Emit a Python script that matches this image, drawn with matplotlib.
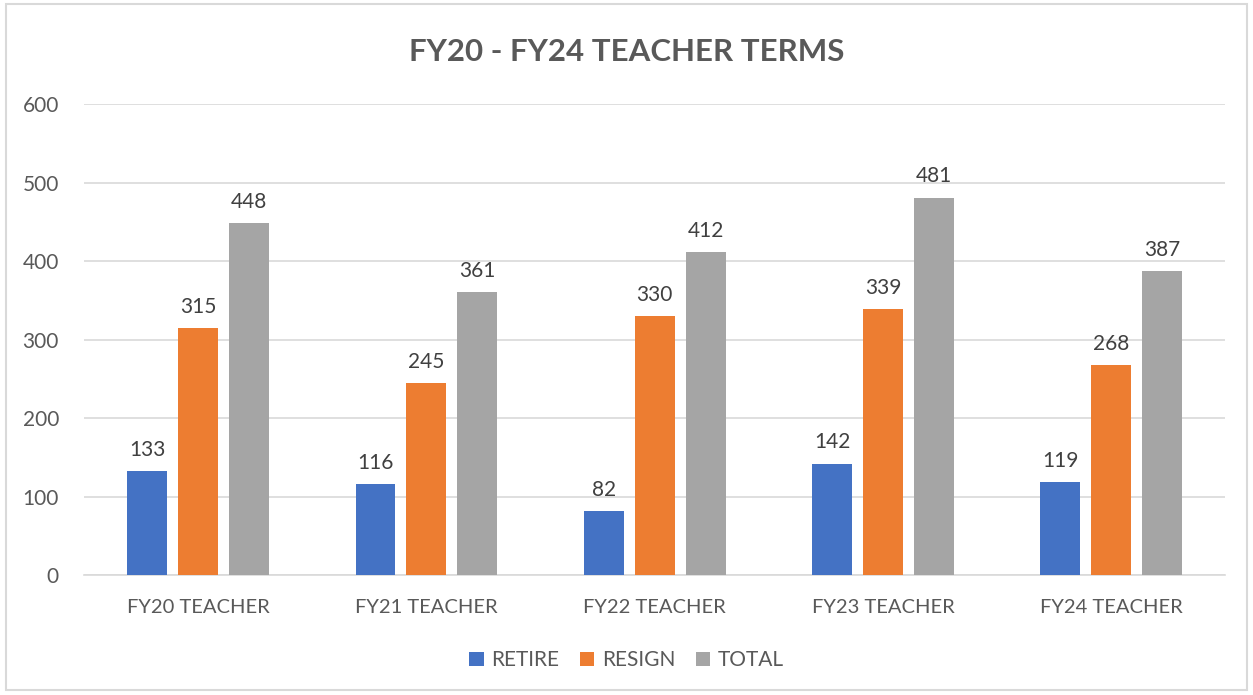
import matplotlib.pyplot as plt
import numpy as np
from matplotlib.patches import Rectangle

plt.rcParams.update({
    "font.family": ["Lato", "DejaVu Sans"],
    "font.size": 15,
})

CATEGORIES = ["FY20 TEACHER", "FY21 TEACHER", "FY22 TEACHER", "FY23 TEACHER", "FY24 TEACHER"]
RETIRE = [133, 116, 82, 142, 119]
RESIGN = [315, 245, 330, 339, 268]
TOTAL = [448, 361, 412, 481, 387]
SERIES_NAMES = ["RETIRE", "RESIGN", "TOTAL"]

COLORS = ["#4472C4", "#ED7D31", "#A5A5A5"]
TEXT = "#595959"
GRID = "#D9D9D9"


def main():
    fig = plt.figure(figsize=(12.53, 6.95), dpi=100)
    ax = fig.add_axes([0.067, 0.1727, 0.911, 0.6773])

    x = np.arange(len(CATEGORIES))
    width = 0.175
    step = 0.223
    for i, (vals, name) in enumerate(zip([RETIRE, RESIGN, TOTAL], SERIES_NAMES)):
        bars = ax.bar(x + (i - 1) * step, vals, width, color=COLORS[i], label=name, zorder=3)
        for b, v in zip(bars, vals):
            ax.annotate(str(v), xy=(b.get_x() + b.get_width() / 2, v),
                        xytext=(0, 8), textcoords="offset points",
                        ha="center", va="bottom", fontsize=15, color="#404040")

    ax.set_xlim(-0.5, len(CATEGORIES) - 0.5)
    ax.set_ylim(0, 600)
    ax.set_yticks(range(0, 601, 100))
    ax.set_xticks(x)
    ax.set_xticklabels(CATEGORIES)
    ax.grid(axis="y", color=GRID, linewidth=1.2, zorder=0)
    for side in ["top", "right", "left"]:
        ax.spines[side].set_visible(False)
    ax.spines["bottom"].set_color(GRID)
    ax.spines["bottom"].set_linewidth(1.2)
    ax.tick_params(axis="both", length=0, colors=TEXT, labelsize=15)
    ax.tick_params(axis="x", pad=17, labelsize=14.5)
    ax.tick_params(axis="y", pad=18)

    fig.text(0.5, 0.925, "FY20 - FY24 TEACHER TERMS", ha="center", va="center",
             fontsize=22.5, fontweight="bold", color=TEXT)

    ax.legend(loc="center", bbox_to_anchor=(0.5, 0.05), bbox_transform=fig.transFigure,
              ncol=3, frameon=False, fontsize=15, handlelength=0.7, handleheight=0.7,
              handletextpad=0.35, columnspacing=1.0, labelcolor=TEXT)

    fig.patches.append(Rectangle((0.005, 0.007), 0.99, 0.987, transform=fig.transFigure,
                                 fill=False, edgecolor="#D9D9D9", linewidth=1.5))

    fig.savefig("out.png", dpi=100, facecolor="white")
    plt.close(fig)


if __name__ == "__main__":
    main()
